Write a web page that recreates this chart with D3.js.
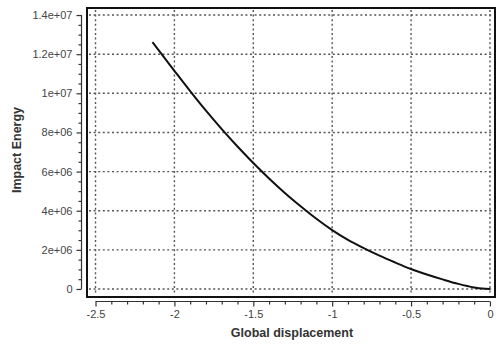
<!DOCTYPE html>
<html>
<head>
<meta charset="utf-8">
<script src="https://cdn.jsdelivr.net/npm/d3@7"></script>
<style>
  html, body { margin: 0; padding: 0; background: #fff; }
  svg { display: block; font-family: "Liberation Sans", Arial, sans-serif; }
</style>
</head>
<body>
<svg id="chart" width="499" height="347"></svg>
<script>
// Impact energy versus global displacement
const displacement = [-2.139, -2.0, -1.9, -1.8, -1.7, -1.6, -1.5, -1.4, -1.3, -1.2, -1.1, -1.0,
  -0.9, -0.8, -0.7, -0.6, -0.5, -0.4, -0.3, -0.2, -0.1, -0.05, 0];
const impactEnergy = [1.262e7, 1.115e7, 1.011e7, 9.11e6, 8.17e6, 7.28e6, 6.44e6, 5.65e6, 4.91e6, 4.23e6, 3.59e6, 3.01e6,
  2.51e6, 2.09e6, 1.70e6, 1.35e6, 1.02e6, 0.74e6, 0.49e6, 0.26e6, 0.08e6, 0.02e6, 0];

const xTicks = [-2.5, -2, -1.5, -1, -0.5, 0];
const xTickLabels = ["-2.5", "-2", "-1.5", "-1", "-0.5", "0"];
const yTicks = [0, 2e6, 4e6, 6e6, 8e6, 1e7, 1.2e7, 1.4e7];
const yTickLabels = ["0", "2e+06", "4e+06", "6e+06", "8e+06", "1e+07", "1.2e+07", "1.4e+07"];

const svg = d3.select("#chart");
const plot = { left: 87, right: 495, top: 8, bottom: 297 };

const x = d3.scaleLinear().domain([-2.554, 0.032]).range([plot.left, plot.right]);
const y = d3.scaleLinear().domain([-4.1e5, 1.436e7]).range([plot.bottom, plot.top]);

// dotted grid
const grid = svg.append("g").attr("stroke", "#555").attr("stroke-width", 1.4)
  .attr("stroke-dasharray", "2,2.6");
grid.selectAll("line.v").data(xTicks).join("line")
  .attr("x1", d => x(d)).attr("x2", d => x(d))
  .attr("y1", plot.top + 2).attr("y2", plot.bottom - 2);
grid.selectAll("line.h").data(yTicks).join("line")
  .attr("y1", d => y(d)).attr("y2", d => y(d))
  .attr("x1", plot.left + 2).attr("x2", plot.right - 2);

// curve
const pts = displacement.map((d, i) => [d, impactEnergy[i]]);
svg.append("path")
  .datum(pts)
  .attr("fill", "none")
  .attr("stroke", "#111")
  .attr("stroke-width", 2)
  .attr("stroke-linejoin", "round")
  .attr("d", d3.line().x(d => x(d[0])).y(d => y(d[1])).curve(d3.curveMonotoneX));

// frame
svg.append("rect")
  .attr("x", plot.left).attr("y", plot.top)
  .attr("width", plot.right - plot.left).attr("height", plot.bottom - plot.top)
  .attr("fill", "none").attr("stroke", "#111").attr("stroke-width", 2);

// y axis, offset from the frame
const yAxisX = 81.5;
const yMinor = d3.range(0, 1.4e7 + 1, 5e5).filter(v => !yTicks.includes(v));
const yAx = svg.append("g").attr("transform", `translate(${yAxisX},0)`);
yAx.call(d3.axisLeft(y).tickValues(yTicks).tickSize(5).tickSizeOuter(0)
  .tickFormat((d, i) => yTickLabels[i]));
yAx.select(".domain").remove();
yAx.append("line").attr("x1", 0).attr("x2", 0)
  .attr("y1", y(yTicks[0])).attr("y2", y(yTicks[yTicks.length - 1]))
  .attr("stroke", "#333").attr("stroke-width", 1.2);
const yMin = svg.append("g").attr("transform", `translate(${yAxisX},0)`)
  .call(d3.axisLeft(y).tickValues(yMinor).tickSize(3).tickFormat(""));
yMin.select(".domain").remove();

// x axis, offset below the frame
const xAxisY = 301.5;
const xMinor = d3.range(-2.5, 0.001, 0.1).map(v => +v.toFixed(1)).filter(v => !xTicks.includes(v));
const xAx = svg.append("g").attr("transform", `translate(0,${xAxisY})`);
xAx.call(d3.axisBottom(x).tickValues(xTicks).tickSize(5).tickSizeOuter(0)
  .tickFormat((d, i) => xTickLabels[i]));
xAx.select(".domain").remove();
xAx.append("line").attr("y1", 0).attr("y2", 0)
  .attr("x1", x(xTicks[0])).attr("x2", x(xTicks[xTicks.length - 1]))
  .attr("stroke", "#333").attr("stroke-width", 1.2);
const xMin = svg.append("g").attr("transform", `translate(0,${xAxisY})`)
  .call(d3.axisBottom(x).tickValues(xMinor).tickSize(3).tickFormat(""));
xMin.select(".domain").remove();

svg.selectAll(".tick line").attr("stroke", "#333").attr("stroke-width", 1.2);
svg.selectAll(".tick text")
  .attr("fill", "#444")
  .style("font-size", "11px")
  .style("font-family", "'Liberation Sans', Arial, sans-serif");
yAx.selectAll(".tick text").attr("x", -9);
xAx.selectAll(".tick text").attr("y", 9);

// axis titles
svg.append("text")
  .attr("x", 292).attr("y", 337)
  .attr("text-anchor", "middle")
  .attr("font-weight", "bold").attr("font-size", 12.5).attr("fill", "#333")
  .text("Global displacement");
svg.append("text")
  .attr("transform", "translate(21,150) rotate(-90)")
  .attr("text-anchor", "middle")
  .attr("font-weight", "bold").attr("font-size", 12.5).attr("fill", "#333")
  .text("Impact Energy");
</script>
</body>
</html>
